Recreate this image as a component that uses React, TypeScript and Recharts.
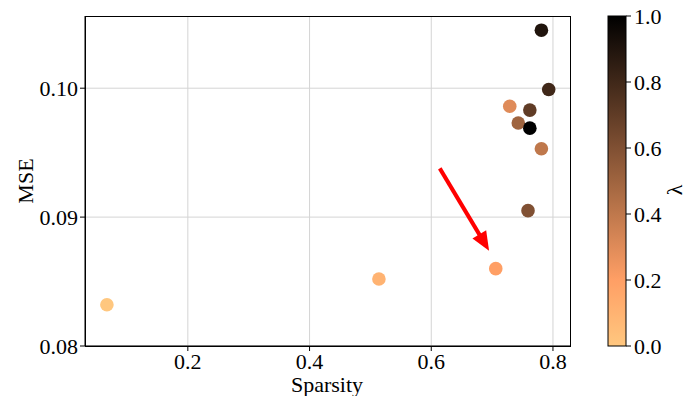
import { ScatterChart, Scatter, XAxis, YAxis, CartesianGrid, ReferenceLine, Cell } from 'recharts';

const sparsity = [0.067, 0.514, 0.706, 0.729, 0.781, 0.743, 0.759, 0.762, 0.793, 0.781, 0.762];
const mse = [0.0832, 0.0852, 0.086, 0.0986, 0.0953, 0.0973, 0.0905, 0.0983, 0.0999, 0.1045, 0.0969];
const lambda = [0.0, 0.1, 0.2, 0.3, 0.4, 0.5, 0.6, 0.7, 0.8, 0.9, 1.0];

const xTicks = [0.2, 0.4, 0.6, 0.8];
const yTicks = [0.08, 0.09, 0.1];
const cbarTicks = [0, 0.2, 0.4, 0.6, 0.8, 1.0];

const arrowFrom = { x: 0.614, y: 0.09378 };
const arrowTo = { x: 0.695, y: 0.08739 };

const FONT = '"Liberation Serif", serif';
const FS = 22;

// matplotlib copper_r
function copperR(v: number) {
  const t = 1 - v;
  const r = Math.min(1, 1.25 * t);
  const g = 0.7812 * t;
  const b = 0.4975 * t;
  return `rgb(${Math.round(r * 255)},${Math.round(g * 255)},${Math.round(b * 255)})`;
}

const points = sparsity.map((s, i) => ({ x: s, y: mse[i], lam: lambda[i] }));

function Arrow(props: any) {
  const { x1, y1, x2, y2 } = props;
  const dx = x2 - x1;
  const dy = y2 - y1;
  const len = Math.sqrt(dx * dx + dy * dy);
  const ux = dx / len;
  const uy = dy / len;
  const head = 19;
  const half = 8;
  const bx = x2 - ux * head;
  const by = y2 - uy * head;
  return (
    <g>
      <line x1={x1} y1={y1} x2={bx + ux * 2} y2={by + uy * 2} stroke="#ff0000" strokeWidth={4} />
      <polygon
        points={`${x2},${y2} ${bx - uy * half},${by + ux * half} ${bx + uy * half},${by - ux * half}`}
        fill="#ff0000"
      />
    </g>
  );
}

function Dot(props: any) {
  const { cx, cy, fill } = props;
  return <circle cx={cx} cy={cy} r={6.8} fill={fill} />;
}

function Overlay() {
  const top = 16;
  const bottom = 346;
  const left = 608;
  const w = 18;
  const h = bottom - top;
  return (
    <svg width={690} height={396} style={{ position: 'absolute', left: 0, top: 0, pointerEvents: 'none' }}>
      <defs>
        <linearGradient id="cbar" x1="0" y1="1" x2="0" y2="0">
          {[0, 0.1, 0.2, 0.3, 0.4, 0.5, 0.6, 0.7, 0.8, 0.9, 1].map((v) => (
            <stop key={v} offset={v} stopColor={copperR(v)} />
          ))}
        </linearGradient>
      </defs>
      {/* plot frame */}
      <rect x={85.5} y={16.5} width={485} height={330} fill="none" stroke="#000" strokeWidth={1} />
      <rect x={left} y={top} width={w} height={h} fill="url(#cbar)" stroke="#000" strokeWidth={1} />
      {cbarTicks.map((v) => {
        const y = bottom - v * h;
        return (
          <g key={v}>
            <line x1={left + w} y1={y} x2={left + w + 5} y2={y} stroke="#000" />
            <text x={left + w + 8} y={y} dy="0.35em" fontFamily={FONT} fontSize={FS} fill="#000">
              {v.toFixed(1)}
            </text>
          </g>
        );
      })}
      <text x={674} y={190} fontFamily={FONT} fontSize={FS} fill="#000" textAnchor="middle" transform="rotate(-90 674 190)" dy="0.35em">
        λ
      </text>
      <text x={25} y={181} fontFamily={FONT} fontSize={FS} fill="#000" textAnchor="middle" transform="rotate(-90 25 181)" dy="0.35em">
        MSE
      </text>
      <text x={327} y={384} fontFamily={FONT} fontSize={FS} fill="#000" textAnchor="middle" dy="0.35em">
        Sparsity
      </text>
    </svg>
  );
}

export default function App() {
  const tick = { fill: '#000', fontSize: FS, fontFamily: FONT };
  return (
    <div style={{ position: 'absolute', left: 0, top: 0, width: 690, height: 396, background: '#fff' }}>
      <ScatterChart width={690} height={396} margin={{ top: 16, right: 120, bottom: 0, left: 25 }}>
        <CartesianGrid stroke="#d4d4d4" strokeWidth={1} horizontalValues={yTicks} verticalValues={xTicks} />
        <XAxis
          type="number"
          dataKey="x"
          domain={[0.031, 0.828]}
          ticks={xTicks}
          tickFormatter={(v: number) => v.toFixed(1)}
          tick={tick}
          tickSize={5}
          height={50}
          allowDataOverflow
          axisLine={{ stroke: '#000' }}
          tickLine={{ stroke: '#000' }}
        />
        <YAxis
          type="number"
          dataKey="y"
          domain={[0.08, 0.1056]}
          ticks={yTicks}
          tickFormatter={(v: number) => v.toFixed(2)}
          tick={tick}
          tickSize={5}
          width={60}
          allowDataOverflow
          axisLine={{ stroke: '#000' }}
          tickLine={{ stroke: '#000' }}
        />
        <ReferenceLine segment={[arrowFrom, arrowTo]} shape={Arrow} ifOverflow="visible" />
        <Scatter data={points} shape={Dot} isAnimationActive={false}>
          {points.map((p, i) => (
            <Cell key={i} fill={copperR(p.lam)} />
          ))}
        </Scatter>
      </ScatterChart>
      <Overlay />
    </div>
  );
}
